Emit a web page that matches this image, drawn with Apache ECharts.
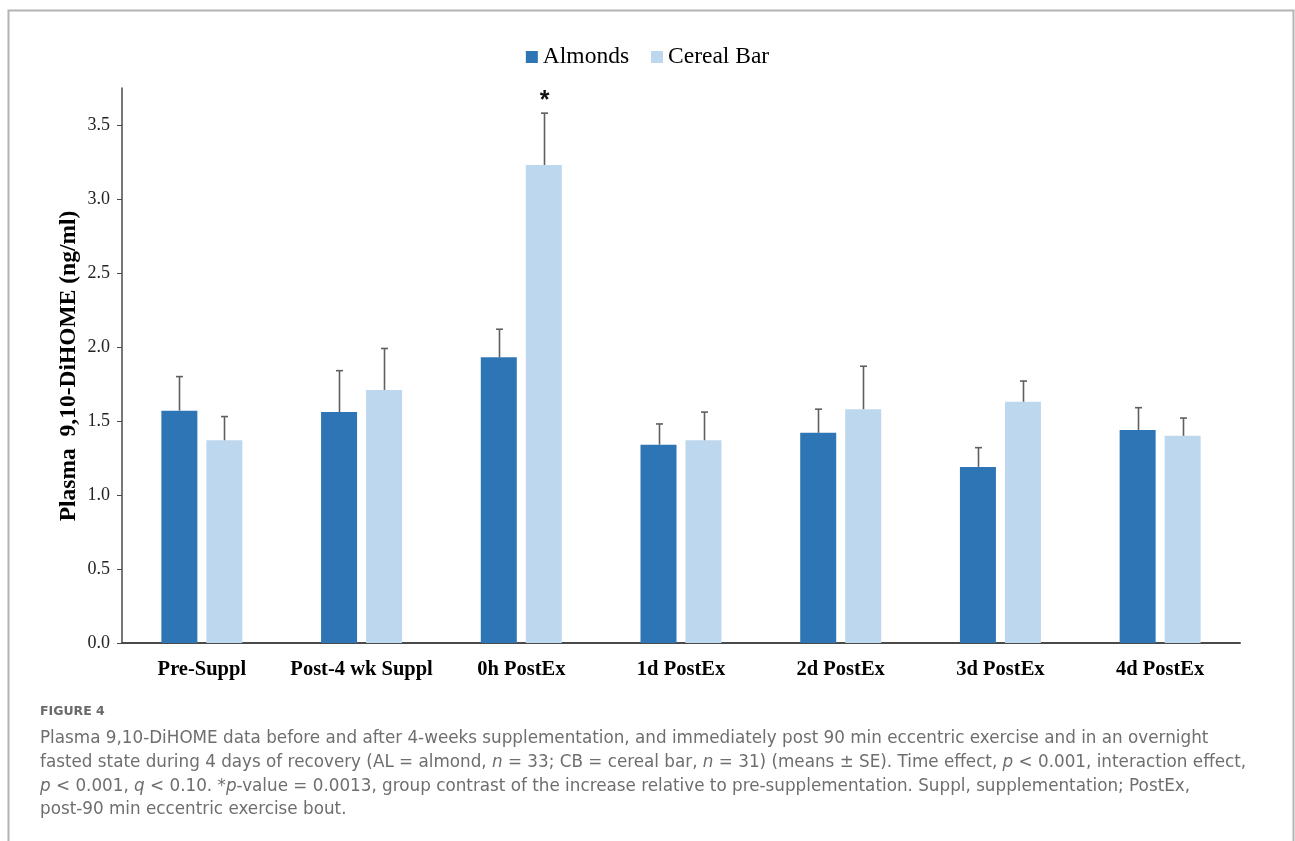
<!DOCTYPE html>
<html>
<head>
<meta charset="utf-8">
<style>
  html, body { margin: 0; padding: 0; background: #fff; }
  #chart { width: 1295px; height: 841px; }
</style>
<script src="https://cdn.jsdelivr.net/npm/echarts@6/dist/echarts.min.js"></script>
</head>
<body>
<div id="chart"></div>
<script>
// Plasma 9,10-DiHOME (ng/ml), means with upper SE whiskers
const categories = ['Pre-Suppl', 'Post-4 wk Suppl', '0h PostEx', '1d PostEx', '2d PostEx', '3d PostEx', '4d PostEx'];
const almondsMean = [1.57, 1.56, 1.93, 1.34, 1.42, 1.19, 1.44];
const almondsUpper = [1.80, 1.84, 2.12, 1.48, 1.58, 1.32, 1.59];
const cerealMean = [1.37, 1.71, 3.23, 1.37, 1.58, 1.63, 1.40];
const cerealUpper = [1.53, 1.99, 3.58, 1.56, 1.87, 1.77, 1.52];
const cerealSig = ['', '', '*', '', '', '', ''];
const yTicks = [0, 0.5, 1.0, 1.5, 2.0, 2.5, 3.0, 3.5];
const yTitle = 'Plasma  9,10-DiHOME (ng/ml)';

const BAR_W = 36;
const BAR_GAP = 0.25;
const SERIF = '"Liberation Serif", "Times New Roman", serif';
const SANS = '"DejaVu Sans", "Noto Sans", sans-serif';

// whisker drawn from the bar top to the upper SE, with a short cap
function whisker(offsetSign, marks) {
  return function (params, api) {
    const i = api.value(0);
    const top = api.coord([i, api.value(2)]);
    const base = api.coord([i, api.value(1)]);
    const dx = offsetSign * (BAR_W + BAR_W * BAR_GAP) / 2;
    const x = Math.round(top[0] + dx) + 0.5;
    const style = { stroke: '#5f5f5f', lineWidth: 1.6 };
    const children = [
      { type: 'line', shape: { x1: x, y1: base[1], x2: x, y2: top[1] }, style: style },
      { type: 'line', shape: { x1: x - 3.5, y1: top[1], x2: x + 3.5, y2: top[1] }, style: style }
    ];
    if (marks && marks[i]) {
      children.push({
        type: 'text',
        style: {
          text: marks[i], x: x, y: top[1] - 12,
          align: 'center', verticalAlign: 'middle',
          font: 'bold 25px "Liberation Sans", Arial, sans-serif', fill: '#111'
        }
      });
    }
    return { type: 'group', children: children };
  };
}

const caption = [
  'Plasma 9,10-DiHOME data before and after 4-weeks supplementation, and immediately post 90 min eccentric exercise and in an overnight',
  'fasted state during 4 days of recovery (AL = almond, {i|n} = 33; CB = cereal bar, {i|n} = 31) (means ± SE). Time effect, {i|p} < 0.001, interaction effect,',
  '{i|p} < 0.001, {i|q} < 0.10. *{i|p}-value = 0.0013, group contrast of the increase relative to pre-supplementation. Suppl, supplementation; PostEx,',
  'post-90 min eccentric exercise bout.'
].join('\n');

const chart = echarts.init(document.getElementById('chart'), null, { renderer: 'canvas' });

chart.setOption({
  animation: false,
  backgroundColor: '#fff',
  legend: {
    top: 40,
    left: 'center',
    itemWidth: 12,
    itemHeight: 12,
    itemGap: 22,
    icon: 'rect',
    textStyle: { fontFamily: SERIF, fontSize: 23.5, color: '#000', padding: [0, 0, 0, 0] },
    data: ['Almonds', 'Cereal Bar']
  },
  grid: { left: 122, right: 55, top: 88, bottom: 198, containLabel: false },
  xAxis: {
    type: 'category',
    data: categories,
    axisLine: { lineStyle: { color: '#4a4a4a', width: 2 } },
    axisTick: { show: false },
    axisLabel: { interval: 0, fontFamily: SERIF, fontSize: 20.5, fontWeight: 'bold', color: '#000', margin: 16 }
  },
  yAxis: {
    type: 'value',
    min: 0,
    max: 3.75,
    interval: 0.5,
    axisLine: { show: true, lineStyle: { color: '#4a4a4a', width: 1.5 } },
    axisTick: { show: true, inside: false, length: 5, lineStyle: { color: '#4a4a4a' }, customValues: yTicks },
    axisLabel: {
      fontFamily: SERIF, fontSize: 18, color: '#222', margin: 12,
      customValues: yTicks,
      formatter: v => v.toFixed(1)
    },
    splitLine: { show: false }
  },
  series: [
    {
      name: 'Almonds', type: 'bar', data: almondsMean,
      barWidth: BAR_W, barGap: (BAR_GAP * 100) + '%',
      itemStyle: { color: '#2e75b6' }
    },
    {
      name: 'Cereal Bar', type: 'bar', data: cerealMean,
      barWidth: BAR_W, barGap: (BAR_GAP * 100) + '%',
      itemStyle: { color: '#bdd7ee' }
    },
    {
      type: 'custom', name: 'Almonds SE',
      renderItem: whisker(-1),
      data: almondsMean.map((m, i) => [i, m, almondsUpper[i]]),
      encode: { x: 0, y: [1, 2] },
      z: 3, silent: true
    },
    {
      type: 'custom', name: 'Cereal Bar SE',
      renderItem: whisker(1, cerealSig),
      data: cerealMean.map((m, i) => [i, m, cerealUpper[i]]),
      encode: { x: 0, y: [1, 2] },
      z: 3, silent: true
    }
  ],
  graphic: [
    {
      type: 'rect',
      shape: { x: 8.5, y: 10.5, width: 1285, height: 900 },
      style: { fill: 'none', stroke: '#b4b4b4', lineWidth: 2 },
      silent: true
    },
    {
      // rotated y-axis title
      type: 'text', x: 69, y: 366, rotation: Math.PI / 2,
      style: {
        text: yTitle, align: 'center', verticalAlign: 'middle',
        font: 'bold 23.5px ' + SERIF, fill: '#000'
      }
    },
    {
      type: 'text', left: 40, top: 705,
      style: { text: 'FIGURE 4', font: 'bold 12.5px ' + SANS, fill: '#6a6a6a' }
    },
    {
      type: 'text', left: 40, top: 727,
      style: {
        text: caption,
        font: '16.8px ' + SANS,
        fill: '#6e6e6e',
        lineHeight: 23.7,
        rich: { i: { fontStyle: 'italic', fontFamily: SANS, fontSize: 16.8, fill: '#6e6e6e', lineHeight: 23.7 } }
      }
    }
  ]
});
</script>
</body>
</html>
